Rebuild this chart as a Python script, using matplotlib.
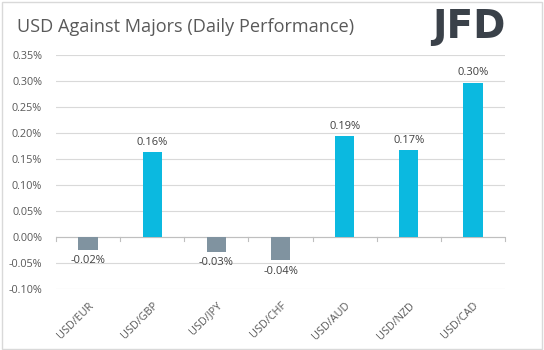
import matplotlib
matplotlib.use("Agg")
import matplotlib.pyplot as plt
from matplotlib.patches import Rectangle
import numpy as np

categories = ["USD/EUR", "USD/GBP", "USD/JPY", "USD/CHF", "USD/AUD", "USD/NZD", "USD/CAD"]
values = [-0.025, 0.163, -0.028, -0.045, 0.194, 0.167, 0.297]
labels = ["-0.02%", "0.16%", "-0.03%", "-0.04%", "0.19%", "0.17%", "0.30%"]
yticks = [-0.10, -0.05, 0.0, 0.05, 0.10, 0.15, 0.20, 0.25, 0.30, 0.35]

pos_color = "#0BB9E0"
neg_color = "#8093A0"
txt = "#595959"

plt.rcParams['font.family'] = ['Open Sans', 'DejaVu Sans']

fig = plt.figure(figsize=(5.44, 3.5), dpi=100)
fig.patch.set_facecolor("white")
fig.add_artist(Rectangle((0.004, 0.004), 0.992, 0.99, transform=fig.transFigure,
                         fill=False, edgecolor="#D9D9D9", lw=1))

ax = fig.add_axes([56/544, 1-289/350, (505-56)/544, (289-55)/350])
x = np.arange(len(categories))
colors = [pos_color if v >= 0 else neg_color for v in values]
ax.bar(x, values, width=0.3, color=colors, zorder=3)

ax.set_xlim(-0.5, len(categories) - 0.5)
ax.set_ylim(-0.10, 0.35)
ax.set_yticks(yticks)
ax.set_yticklabels([f"{t:.2f}%" for t in yticks], fontsize=7.8, color=txt)
ax.yaxis.grid(True, color="#D9D9D9", lw=0.8, zorder=0)
ax.tick_params(axis="y", length=0, pad=10)
for s in ax.spines.values():
    s.set_visible(False)

ax.set_xticks(x)
ax.set_xticklabels(categories, rotation=45, ha="right", rotation_mode="anchor",
                   fontsize=7.8, color=txt)
ax.tick_params(axis="x", length=0, pad=8)

# zero axis line with boundary ticks (pointing down)
ax.axhline(0, color="#BFBFBF", lw=0.8, zorder=2)
for b in np.arange(-0.5, len(categories), 1.0):
    ax.plot([b, b], [0, -0.008], color="#BFBFBF", lw=0.8, zorder=2, clip_on=False)

for xi, v, lab in zip(x, values, labels):
    if v >= 0:
        ax.text(xi, v + 0.008, lab, ha="center", va="bottom", fontsize=8, color="#404040")
    else:
        ax.text(xi, v - 0.01, lab, ha="center", va="top", fontsize=8, color="#404040")

fig.text(17/544, 1-27/350, "USD Against Majors (Daily Performance)", fontsize=13.1,
         color=txt, va="center", ha="left")
fig.text(469/544, 1-27/350, "JFD", fontsize=28, fontweight="bold", color="#3A4149",
         va="center", ha="center", family="Liberation Sans Narrow")

fig.savefig("out.png", dpi=100, facecolor="white")
